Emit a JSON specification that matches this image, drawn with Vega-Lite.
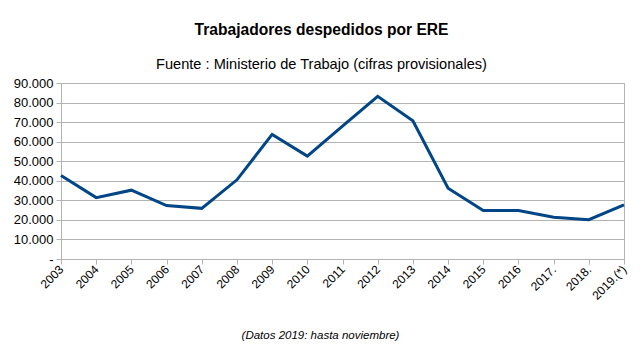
{
  "$schema": "https://vega.github.io/schema/vega-lite/v6.json",
  "width": 563,
  "height": 176,
  "autosize": {"type": "none"},
  "padding": {"left": 61, "top": 83, "right": 19, "bottom": 102},
  "background": "white",
  "title": {
    "text": "Trabajadores despedidos por ERE",
    "anchor": "middle",
    "frame": "group",
    "dx": -21,
    "offset": 17,
    "font": "Liberation Sans",
    "fontSize": 15.6,
    "fontWeight": "bold",
    "color": "#000000"
  },
  "data": {
    "values": [
      {"year": "2003", "value": 42700},
      {"year": "2004", "value": 31400},
      {"year": "2005", "value": 35200},
      {"year": "2006", "value": 27300},
      {"year": "2007", "value": 25900},
      {"year": "2008", "value": 40500},
      {"year": "2009", "value": 63700},
      {"year": "2010", "value": 52600},
      {"year": "2011", "value": 68000},
      {"year": "2012", "value": 83200},
      {"year": "2013", "value": 70700},
      {"year": "2014", "value": 36200},
      {"year": "2015", "value": 24800},
      {"year": "2016", "value": 24800},
      {"year": "2017.", "value": 21300},
      {"year": "2018.", "value": 20100},
      {"year": "2019.(*)", "value": 27700}
    ]
  },
  "mark": {"type": "line", "color": "#004586", "strokeWidth": 3, "strokeJoin": "miter"},
  "encoding": {
    "x": {
      "field": "year",
      "type": "ordinal",
      "sort": null,
      "scale": {"type": "point", "padding": 0},
      "axis": {
        "title": "(Datos 2019: hasta noviembre)",
        "titleFont": "Liberation Sans",
        "titleFontSize": 11.5,
        "titleFontStyle": "italic",
        "titleFontWeight": "normal",
        "titleColor": "#000000",
        "titleX": 259,
        "titleY": 79,
        "titleAnchor": "middle",
        "titleAlign": "center",
        "titleBaseline": "alphabetic",
        "labelAngle": -45,
        "labelAlign": "right",
        "labelBaseline": "middle",
        "labelPadding": 3,
        "labelFont": "Liberation Sans",
        "labelFontSize": 12,
        "labelColor": "#000000",
        "labelOverlap": false,
        "domainColor": "#b3b3b3",
        "tickColor": "#b3b3b3",
        "tickSize": 5,
        "grid": false
      }
    },
    "y": {
      "field": "value",
      "type": "quantitative",
      "scale": {"domain": [0, 90000], "nice": false},
      "axis": {
        "title": "Fuente : Ministerio de Trabajo (cifras provisionales)",
        "titleFont": "Liberation Sans",
        "titleFontSize": 14.6,
        "titleFontWeight": "normal",
        "titleColor": "#000000",
        "titleAngle": 0,
        "titleX": 260,
        "titleY": -15,
        "titleAlign": "center",
        "titleAnchor": "middle",
        "titleBaseline": "alphabetic",
        "values": [0, 10000, 20000, 30000, 40000, 50000, 60000, 70000, 80000, 90000],
        "labelExpr": "datum.value == 0 ? '-' : replace(format(datum.value, ',d'), ',', '.')",
        "labelFont": "Liberation Sans",
        "labelFontSize": 13,
        "labelColor": "#000000",
        "labelPadding": 3,
        "domainColor": "#b3b3b3",
        "tickColor": "#b3b3b3",
        "tickSize": 5,
        "gridColor": "#b3b3b3",
        "gridOpacity": 1
      }
    }
  },
  "config": {
    "view": {"stroke": "#b3b3b3"}
  }
}
